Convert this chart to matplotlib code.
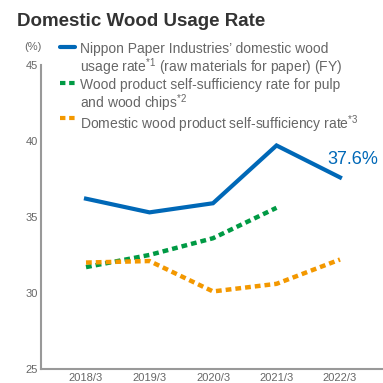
import matplotlib.pyplot as plt
from matplotlib.lines import Line2D

plt.rcParams['font.family'] = ['Liberation Sans', 'DejaVu Sans']
plt.rcParams['mathtext.fontset'] = 'custom'
plt.rcParams['mathtext.rm'] = 'Liberation Sans'
plt.rcParams['mathtext.it'] = 'Liberation Sans'

#%% Data
years = ['2018/3', '2019/3', '2020/3', '2021/3', '2022/3']
nippon = [36.2, 35.3, 35.9, 39.7, 37.6]
pulp_chips = [31.7, 32.5, 33.6, 35.6]
domestic = [32.0, 32.1, 30.1, 30.6, 32.2]

blue = '#0068b7'
green = '#009a44'
orange = '#f39800'
grey = '#666666'

fig = plt.figure(figsize=(3.83, 3.83), dpi=100)
ax = fig.add_axes([0.107, 0.0366, 0.893, 0.794])

x = list(range(len(years)))
dots = (0, (1.3, 0.9))
ax.plot(x, nippon, color=blue, lw=3.0, solid_joinstyle='miter')
ax.plot(x[:len(pulp_chips)], pulp_chips, color=green, lw=3.2, linestyle=dots, dash_capstyle='butt')
ax.plot(x, domestic, color=orange, lw=3.2, linestyle=dots, dash_capstyle='butt')

ax.text(x[-1] - 0.2, nippon[-1] + 0.6, '%.1f%%' % nippon[-1], color=blue, fontsize=13,
        ha='left', va='bottom')

ax.set_xlim(-0.709, 4.677)
ax.set_ylim(25, 45)
ax.set_yticks([25, 30, 35, 40, 45])
ax.set_xticks(x)
ax.set_xticklabels(years)
ax.tick_params(axis='y', length=0, labelsize=8, labelcolor=grey, pad=2)
ax.tick_params(axis='x', length=0, labelsize=8, labelcolor=grey, pad=3)
for s in ['top', 'right']:
    ax.spines[s].set_visible(False)
for s in ['left', 'bottom']:
    ax.spines[s].set_color('#999999')
    ax.spines[s].set_linewidth(1.5)
ax.patch.set_alpha(0)

#%% Title, unit and legend
fig.text(17 / 383, 1 - 22 / 383, 'Domestic Wood Usage Rate', fontsize=13.5, fontweight='bold',
         color='#333333', va='center')
fig.text(33 / 383, 1 - 47 / 383, '(%)', fontsize=8, color=grey, ha='center', va='center')

labels = [
    ("Nippon Paper Industries\u2019 domestic wood\nusage rate$^{*1}$ (raw materials for paper) (FY)", blue, '-', 52),
    ("Wood product self-sufficiency rate for pulp\nand wood chips$^{*2}$", green, dots, 88),
    ("Domestic wood product self-sufficiency rate$^{*3}$", orange, dots, 123),
]
for txt, col, ls, ybase in labels:
    yh = 1 - (ybase - 5) / 383
    fig.add_artist(Line2D([60 / 383, 75 / 383], [yh, yh], color=col, lw=3.0, linestyle=ls,
                          dash_capstyle='butt', solid_capstyle='round'))
    fig.text(80 / 383, 1 - (ybase - 10) / 383, txt, fontsize=10, color=grey, va='top',
             linespacing=1.0)

fig.savefig('out.png', dpi=100)
